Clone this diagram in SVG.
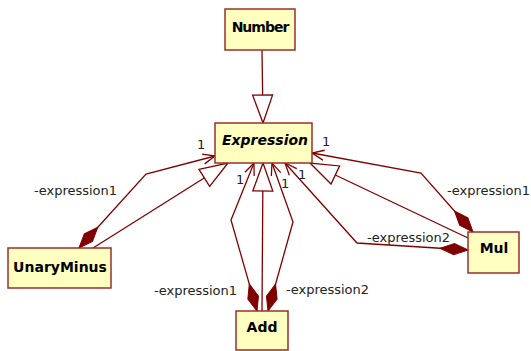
<svg xmlns="http://www.w3.org/2000/svg" width="531" height="351" viewBox="0 0 531 351">
<style>
.box{fill:#ffffc0;stroke:#9a2e2e;stroke-width:1.5}
.name{font-family:"DejaVu Sans",sans-serif;font-weight:bold;font-size:14px;fill:#000;text-anchor:middle}
.lbl{font-family:"DejaVu Sans",sans-serif;font-size:13px;fill:#222}
.ln{fill:none;stroke:#800000;stroke-width:1.3}
.gen{marker-end:url(#tri)}
.asc{marker-start:url(#dia);marker-end:url(#arr)}
</style>
<defs>
<marker id="tri" markerUnits="userSpaceOnUse" orient="auto" refX="0" refY="0" markerWidth="30" markerHeight="22" overflow="visible">
<path d="M-28,-10 L0,0 L-28,10 Z" fill="#fff" stroke="#800000" stroke-width="1.3"/>
</marker>
<marker id="arr" markerUnits="userSpaceOnUse" orient="auto" refX="0" refY="0" markerWidth="14" markerHeight="12" overflow="visible">
<path d="M-12,-5 L0,0 L-12,5" fill="none" stroke="#800000" stroke-width="1.3"/>
</marker>
<marker id="dia" markerUnits="userSpaceOnUse" orient="auto" refX="0" refY="0" markerWidth="30" markerHeight="12" overflow="visible">
<path d="M0,0 L14,-5.5 L28,0 L14,5.5 Z" fill="#800000" stroke="#800000" stroke-width="1"/>
</marker>
</defs>
<g id="connectors">
<polyline class="ln gen" points="262,50 263,123"/>
<polyline class="ln gen" points="93,248 228,163"/>
<polyline class="ln asc" points="79,248 146,174 215,156"/>
<polyline class="ln gen" points="262,311 263,163"/>
<polyline class="ln asc" points="257,311 231,220 254,163"/>
<polyline class="ln asc" points="268,311 293,222 272,163"/>
<polyline class="ln gen" points="468,238 310,163"/>
<polyline class="ln asc" points="473,232 421,173 312,153"/>
<polyline class="ln asc" points="468,250 357,243 285,163"/>
</g>
<g id="labels">
<text class="lbl" x="34" y="195">-expression1</text>
<text class="lbl" x="154" y="295">-expression1</text>
<text class="lbl" x="286" y="294">-expression2</text>
<text class="lbl" x="447" y="195">-expression1</text>
<text class="lbl" x="367" y="242">-expression2</text>
<text class="lbl" x="197" y="149">1</text>
<text class="lbl" x="322" y="146">1</text>
<text class="lbl" x="236" y="184">1</text>
<text class="lbl" x="281" y="188">1</text>
<text class="lbl" x="298" y="179">1</text>
</g>
<g id="Number">
<rect class="box" x="225" y="9" width="70" height="41"/>
<text class="name" x="260" y="32" letter-spacing="-1">Number</text>
</g>
<g id="Expression">
<rect class="box" x="215" y="123" width="97" height="40"/>
<text class="name" x="265" y="145" font-style="italic">Expression</text>
</g>
<g id="UnaryMinus">
<rect class="box" x="8" y="248" width="103" height="40"/>
<text class="name" x="60" y="272">UnaryMinus</text>
</g>
<g id="Add">
<rect class="box" x="236" y="311" width="52" height="39"/>
<text class="name" x="262" y="332">Add</text>
</g>
<g id="Mul">
<rect class="box" x="468" y="232" width="51" height="41"/>
<text class="name" x="494" y="253">Mul</text>
</g>
</svg>
